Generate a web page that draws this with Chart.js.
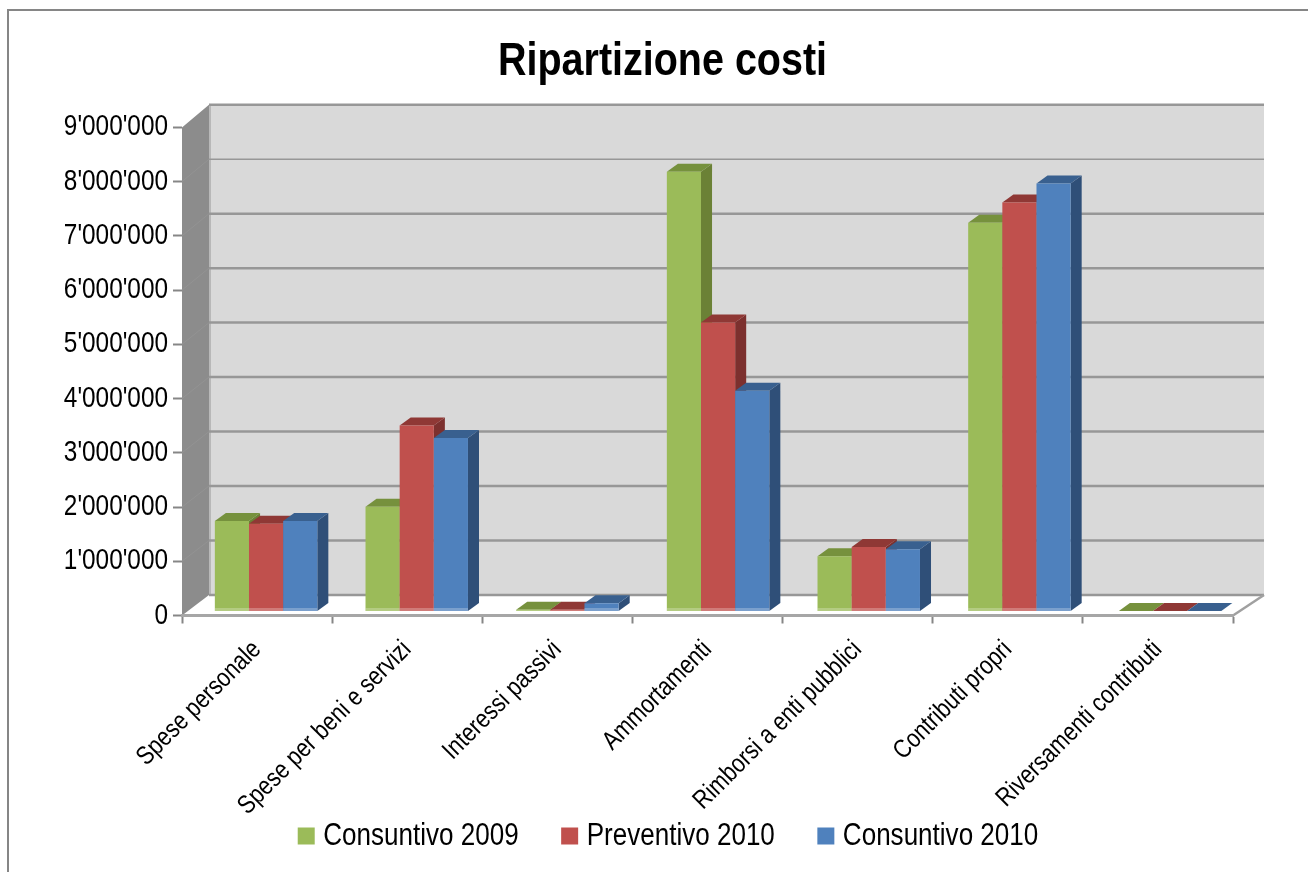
<!DOCTYPE html>
<html>
<head>
<meta charset="utf-8">
<title>Ripartizione costi</title>
<script src="https://cdn.jsdelivr.net/npm/chart.js@4/dist/chart.umd.min.js"></script>
<style>
  html, body { margin: 0; padding: 0; background: #fff; }
  canvas { display: block; }
</style>
</head>
<body>
<canvas id="costi" width="1308" height="872"></canvas>
<script>
const categories = ['Spese personale', 'Spese per beni e servizi', 'Interessi passivi', 'Ammortamenti', 'Rimborsi a enti pubblici', 'Contributi propri', 'Riversamenti contributi'];
const consuntivo2009 = [1670000, 1930000, 30000, 8110000, 1020000, 7170000, 10000];
const preventivo2010 = [1620000, 3430000, 30000, 5330000, 1190000, 7540000, 10000];
const consuntivo2010 = [1670000, 3200000, 150000, 4070000, 1150000, 7890000, 10000];

const fontName = '"Liberation Sans", Arial, sans-serif';

// colori delle facce laterali e superiori delle barre
const sideColors = ['#6b8136', '#7c302e', '#2f4f78'];
const topColors = ['#76913d', '#8f3835', '#39608f'];

// il testo dell'originale e' stretto in orizzontale: stessa resa con maxWidth
const canvas = document.getElementById('costi');
const rawCtx = canvas.getContext('2d');
const textSqueeze = 0.84;
const rawMeasure = rawCtx.measureText.bind(rawCtx);
const rawFill = rawCtx.fillText.bind(rawCtx);
rawCtx.measureText = t => ({ width: rawMeasure(t).width * textSqueeze });
rawCtx.fillText = (t, x, y) => rawFill(t, x, y, rawMeasure(t).width * textSqueeze);

// sfondo 3D: parete sinistra, parete di fondo, pavimento
const walls = {
  id: 'walls',
  beforeDraw(chart) {
    const { ctx, chartArea: a, scales: { y } } = chart;
    const back = v => 595 - (a.bottom - y.getPixelForValue(v)) * 1.0045;
    const backLeft = 209, backRight = 1264, backTop = back(9000000), backBottom = back(0);

    ctx.save();
    // cornice
    ctx.strokeStyle = '#868686';
    ctx.lineWidth = 2;
    ctx.strokeRect(8, 10, 1400, 1000);

    ctx.fillStyle = '#d9d9d9';
    ctx.fillRect(backLeft, backTop, backRight - backLeft, backBottom - backTop);
    ctx.fillStyle = '#b8b8b8';
    ctx.fillRect(backLeft, backTop, 2, backBottom - backTop);

    ctx.fillStyle = '#8c8c8c';
    ctx.beginPath();
    ctx.moveTo(a.left, y.getPixelForValue(9000000));
    ctx.lineTo(backLeft, backTop);
    ctx.lineTo(backLeft, backBottom);
    ctx.lineTo(a.left, a.bottom);
    ctx.closePath();
    ctx.fill();

    // griglia sulla parete di fondo
    y.ticks.forEach(t => {
      const py = back(t.value);
      ctx.strokeStyle = '#979797';
      ctx.lineWidth = t.value === 8000000 ? 1.5 : 2.5;
      ctx.beginPath();
      ctx.moveTo(backLeft, py);
      ctx.lineTo(backRight, py);
      ctx.stroke();
      if (t.value > 0 && t.value < 9000000) {
        ctx.strokeStyle = '#939393';
        ctx.lineWidth = 1;
        ctx.beginPath();
        ctx.moveTo(a.left, y.getPixelForValue(t.value));
        ctx.lineTo(backLeft, py);
        ctx.stroke();
      }
    });

    // bordo destro del pavimento
    ctx.strokeStyle = '#a0a0a0';
    ctx.lineWidth = 2.5;
    ctx.beginPath();
    ctx.moveTo(a.right, a.bottom);
    ctx.lineTo(backRight, backBottom);
    ctx.stroke();
    ctx.restore();
  }
};

// le barre stanno un po' dentro il pavimento; si disegnano da sinistra a destra
// cosi' il fronte della barra dopo copre il fianco di quella prima
const bars3d = {
  id: 'bars3d',
  beforeDatasetsDraw(chart) {
    const { ctx } = chart;
    const dx = 11, dy = 8;
    ctx.save();
    ctx.transform(1.0035, 0, 0, 1, 8.1, -4);
    chart.data.datasets.forEach((ds, i) => {
      const meta = chart.getDatasetMeta(i);
      meta.data.forEach(bar => {
        const l = bar.x - bar.width / 2, r = bar.x + bar.width / 2;
        ctx.fillStyle = sideColors[i];
        ctx.beginPath();
        ctx.moveTo(r, bar.y);
        ctx.lineTo(r + dx, bar.y - dy);
        ctx.lineTo(r + dx, bar.base - dy);
        ctx.lineTo(r, bar.base);
        ctx.closePath();
        ctx.fill();
        ctx.fillStyle = topColors[i];
        ctx.beginPath();
        ctx.moveTo(l, bar.y);
        ctx.lineTo(l + dx, bar.y - dy);
        ctx.lineTo(r + dx, bar.y - dy);
        ctx.lineTo(r, bar.y);
        ctx.closePath();
        ctx.fill();
      });
      meta.controller.draw();
      ctx.fillStyle = 'rgba(255,255,255,0.25)';
      meta.data.forEach(bar => {
        const h = Math.min(3, bar.base - bar.y);
        ctx.fillRect(bar.x - bar.width / 2, bar.base - h, bar.width, h);
      });
    });
    ctx.restore();
    return false;
  }
};

// titolo e legenda non sono centrati sul grafico
const placeBoxes = {
  id: 'placeBoxes',
  afterLayout(chart) {
    const { legend, titleBlock } = chart;
    legend.left += 23;
    legend.right += 23;
    legend.top = 771;
    legend.bottom = 858;
    titleBlock.left += 14;
    titleBlock.right += 14;
  }
};

new Chart(canvas, {
  type: 'bar',
  data: {
    labels: categories,
    datasets: [
      { label: 'Consuntivo 2009', data: consuntivo2009, backgroundColor: '#9bbb59' },
      { label: 'Preventivo 2010', data: preventivo2010, backgroundColor: '#c0504d' },
      { label: 'Consuntivo 2010', data: consuntivo2010, backgroundColor: '#4f81bd' }
    ]
  },
  plugins: [walls, bars3d, placeBoxes],
  options: {
    responsive: false,
    animation: false,
    categoryPercentage: 0.68,
    barPercentage: 1,
    layout: { padding: { left: 64, right: 75, top: 0, bottom: -54 } },
    plugins: {
      tooltip: { enabled: false },
      title: {
        display: true,
        text: 'Ripartizione costi',
        color: '#000',
        font: { family: fontName, size: 47, weight: 'bold' },
        padding: { top: 34, bottom: 37 }
      },
      legend: {
        position: 'bottom',
        labels: {
          color: '#000',
          font: { family: fontName, size: 31 },
          usePointStyle: true,
          pointStyle: 'rect',
          boxWidth: 3,
          boxHeight: 17,
          padding: 49.5
        }
      }
    },
    scales: {
      x: {
        afterFit: s => { s.height = 220; },
        grid: { drawOnChartArea: false, color: '#868686', tickLength: 8, tickWidth: 2 },
        border: { display: true, color: '#a6a6a6', width: 3 },
        ticks: { color: '#000', font: { family: fontName, size: 26 }, minRotation: 45, maxRotation: 45, autoSkip: false, padding: 11 }
      },
      y: {
        min: 0,
        max: 9000000,
        afterFit: s => { s.width = 118; },
        grid: { drawOnChartArea: false, color: '#868686', tickLength: 9, tickWidth: 2 },
        border: { display: false },
        ticks: {
          stepSize: 1000000,
          color: '#000',
          padding: 5,
          font: { family: fontName, size: 29 },
          callback: v => String(v).replace(/\B(?=(\d{3})+$)/g, "'")
        }
      }
    }
  }
});
</script>
</body>
</html>
